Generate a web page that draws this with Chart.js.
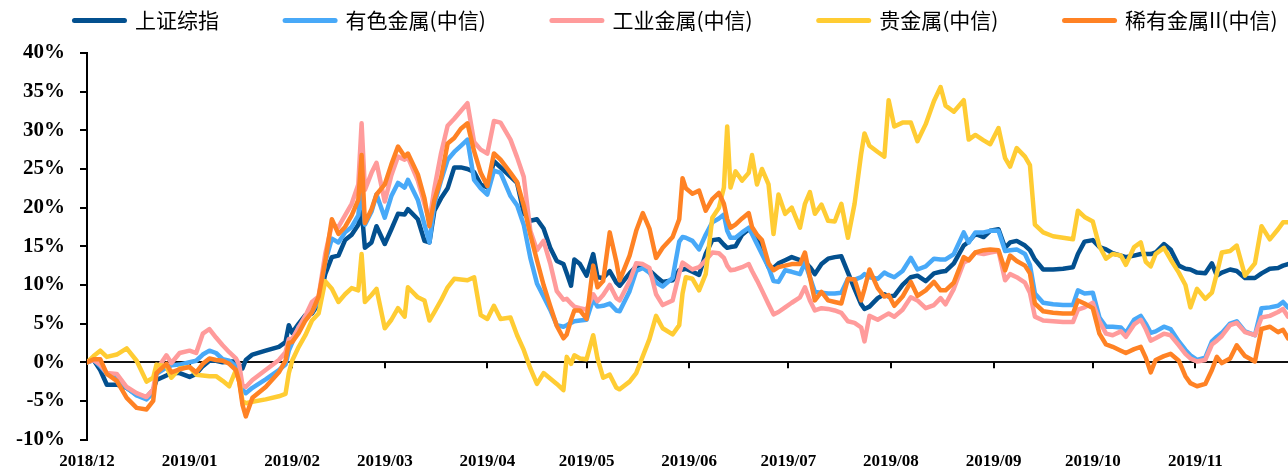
<!DOCTYPE html>
<html>
<head>
<meta charset="utf-8">
<script src="https://cdn.jsdelivr.net/npm/chart.js@4.4.0/dist/chart.umd.min.js"></script>
<style>
  html, body { margin: 0; padding: 0; background: #fff; }
  #wrap { width: 1288px; height: 473px; position: relative; }
</style>
</head>
<body>
<div id="wrap"><canvas id="chart"></canvas></div>
<script>
// 横轴：距 2018/12/01 的天数
const days = [
  0, 2, 4, 6, 9, 12, 15, 18, 20, 21, 24, 25.5, 28, 31, 33, 35, 37, 39, 41, 43, 45, 46, 47, 48, 50, 54, 58, 60, 61,
  62, 64, 66, 68, 70, 72, 74, 76, 78, 80, 82, 83, 84, 86, 87.5, 90, 92, 94, 96, 97, 100, 102, 103.5, 105, 107, 109, 111, 113, 115, 117, 119, 121,
  123, 125, 128, 130, 132, 134, 136, 138, 140, 142, 144, 145, 146.3, 147.3, 149, 151, 153, 154.3, 156, 158, 160, 161, 164, 166, 168, 170, 172, 174, 177, 179, 180, 181,
  183, 185, 187, 189, 191, 192.5, 193.5, 194.5, 196, 198, 200, 201, 202.5, 204, 206, 207.5, 209, 211, 213, 215.5, 217, 218.5, 220, 222, 224, 226, 228, 230, 232, 234, 235, 236.5, 239, 241, 242.3,
  244, 246.5, 249, 251, 253.5, 256, 258, 259.5, 262, 265, 266.5, 268.5, 271, 273, 275.5, 277.5, 279, 281, 283.5, 285, 286.5, 289, 292, 295, 298, 299.5, 301.5,
  304, 306, 308, 310, 312.5, 314, 316.5, 318.5, 320, 321.5, 323, 325.5, 327.5, 330, 332, 333.5, 335.5, 338, 340, 341.5, 343, 345.5, 347.5, 350, 353, 355, 357.5, 360, 361.5, 363
];

// 区间涨跌幅（%）
const shIndex = [
  0, 0.3, -1.0, -2.9, -2.9, -3.3, -4.2, -4.5, -3.6, -2.3, -1.7, -1.4, -1.4, -1.9, -1.5, -0.5, 0.2, 0.2, 0.0, 0.1, 0.1, -0.3, -0.8, 0.3, 1.0, 1.5, 2.0, 2.6, 4.8,
  3.8, 5.0, 6.1, 6.3, 7.6, 11.4, 13.6, 13.8, 15.8, 16.5, 17.8, 19.8, 14.8, 15.5, 17.6, 15.3, 17.2, 19.2, 19.1, 19.8, 18.5, 15.7, 15.5, 19.6, 21.2, 22.5, 25.2, 25.2, 25.0, 24.6, 23.0, 22.6,
  26.0, 25.2, 24.0, 23.2, 19.3, 18.3, 18.5, 17.3, 14.8, 13.1, 12.7, 11.5, 9.9, 13.3, 12.7, 11.2, 14.0, 11.0, 10.9, 11.8, 10.3, 9.9, 11.5, 12.4, 12.4, 11.9, 11.1, 10.4, 10.6, 11.9, 12.0, 12.1,
  11.7, 11.3, 14.0, 15.8, 15.9, 15.2, 14.8, 14.9, 15.0, 16.5, 17.2, 16.8, 16.0, 14.5, 12.3, 12.2, 12.8, 13.2, 13.6, 13.2, 13.0, 12.3, 11.4, 12.7, 13.4, 13.6, 13.7, 11.6, 9.5, 7.5, 6.9, 7.2, 8.3, 8.8, 8.5,
  8.6, 10.0, 11.0, 11.2, 10.5, 11.5, 11.7, 11.8, 12.8, 15.1, 15.6, 16.6, 16.2, 17.0, 17.2, 14.8, 15.5, 15.7, 15.1, 14.5, 13.3, 12.0, 12.0, 12.1, 12.3, 14.0, 15.6,
  15.8, 14.9, 14.6, 14.1, 13.8, 13.6, 13.8, 14.0, 14.0, 14.0, 14.2, 15.3, 14.6, 12.5, 12.1, 12.0, 11.6, 11.5, 12.8, 11.2, 11.6, 12.0, 11.8, 10.9, 10.9, 11.5, 12.1, 12.2, 12.5, 12.7
];
const nonferrous = [
  0, 0.3, -0.5, -1.5, -2.0, -3.3, -4.3, -4.8, -4.0, -1.5, -0.7, -0.4, -0.3, 0.0, 0.2, 1.0, 1.5, 1.2, 0.4, 0.2, -0.5, -1.5, -3.5, -4.0, -3.3, -2.2, -1.0, -0.3, 1.5,
  2.5, 4.6, 5.5, 6.5, 8.0, 13.0, 16.0, 15.5, 16.8, 17.5, 19.0, 22.6, 17.8, 19.5, 21.7, 18.7, 21.5, 23.2, 22.6, 23.6, 21.0, 17.8, 15.5, 20.5, 23.5, 26.2, 27.2, 28.0, 28.8, 23.6, 22.5, 21.7,
  24.8, 24.5, 21.5, 20.3, 17.8, 13.5, 10.2, 8.5, 6.8, 4.8, 4.6, 4.8, 5.1, 5.3, 5.4, 5.5, 8.2, 7.2, 7.3, 7.6, 6.7, 6.6, 9.2, 11.8, 12.2, 11.6, 10.3, 9.8, 10.9, 15.6, 16.2, 16.1,
  15.7, 14.6, 16.5, 18.1, 18.6, 19.1, 17.0, 16.1, 16.1, 16.8, 17.4, 16.6, 15.3, 14.0, 12.3, 10.5, 10.4, 11.9, 11.7, 11.4, 12.9, 11.0, 9.1, 9.0, 8.9, 8.9, 9.0, 10.8, 10.7, 11.0, 11.4, 11.0, 10.8, 11.6, 11.3,
  11.0, 11.8, 13.5, 12.0, 12.4, 13.4, 13.3, 13.3, 14.0, 16.8, 15.5, 16.8, 16.8, 17.0, 17.0, 14.4, 14.5, 14.6, 14.0, 12.6, 8.9, 7.7, 7.5, 7.4, 7.4, 9.3, 8.9,
  9.0, 5.8, 4.6, 4.6, 4.5, 3.8, 5.5, 6.0, 5.0, 3.8, 4.0, 4.6, 4.3, 2.7, 1.6, 0.9, 0.3, 0.6, 2.7, 3.3, 3.8, 5.0, 5.3, 4.0, 3.5, 7.0, 7.1, 7.3, 7.8, 7.1
];
const industrial = [
  0, 0.3, -0.3, -1.4, -1.5, -3.2, -4.0, -4.5, -3.5, -1.0, 0.9, -0.1, 1.2, 1.5, 1.2, 3.7, 4.3, 3.2, 2.2, 1.3, 0.5, -0.3, -3.0, -3.2, -2.3, -1.0, 0.3, 1.3, 3.0,
  3.0, 4.5, 6.0, 7.8, 8.5, 14.0, 17.8, 17.5, 19.0, 20.5, 23.0, 30.9, 22.3, 24.5, 25.8, 20.8, 24.2, 26.6, 26.2, 26.5, 23.5, 20.5, 18.3, 22.5, 27.0, 30.6, 31.5, 32.5, 33.5, 28.5, 27.5, 27.0,
  31.2, 31.0, 28.8, 26.5, 24.0, 17.0, 14.5, 15.7, 12.8, 9.2, 8.1, 8.2, 7.6, 7.2, 7.0, 6.8, 8.8, 7.9, 8.7, 10.0, 8.3, 8.0, 10.5, 12.8, 12.7, 12.2, 8.8, 7.4, 8.0, 11.5, 12.9, 12.6,
  12.0, 12.3, 13.2, 14.2, 14.1, 13.5, 12.5, 11.9, 12.0, 12.3, 12.7, 11.8, 10.6, 9.3, 7.5, 6.2, 6.5, 7.1, 7.7, 8.4, 9.7, 8.0, 6.7, 7.0, 6.9, 6.7, 6.4, 5.3, 5.1, 4.5, 2.7, 6.0, 5.5, 6.0, 6.3,
  5.9, 6.8, 8.4, 8.0, 7.0, 7.4, 8.3, 7.5, 9.5, 12.9, 13.2, 14.2, 14.0, 14.2, 14.4, 10.6, 11.4, 11.0, 10.3, 9.0, 5.9, 5.4, 5.3, 5.2, 5.2, 6.8, 7.1,
  7.7, 5.3, 3.7, 3.5, 4.0, 3.3, 4.9, 5.5, 4.3, 2.8, 3.1, 3.7, 3.5, 2.2, 1.1, 0.5, 0.1, 0.3, 2.3, 2.8, 3.4, 4.8, 5.1, 3.9, 3.5, 5.8, 6.0, 6.5, 6.9, 5.9
];
const precious = [
  0, 0.8, 1.5, 0.7, 1.0, 1.8, 0.2, -2.5, -2.0, -0.3, -0.5, -2.0, -0.8, -0.6, -1.6, -1.7, -1.8, -1.8, -2.4, -3.1, -1.0, -2.5, -5.0, -5.3, -5.1, -4.8, -4.4, -4.1, -1.4,
  0.2, 2.0, 3.5, 5.4, 6.3, 10.5, 9.5, 7.8, 8.8, 9.6, 9.3, 14.0, 7.8, 8.7, 9.5, 4.4, 5.5, 7.0, 5.9, 9.7, 8.4, 8.0, 5.4, 6.5, 8.0, 9.7, 10.8, 10.7, 10.6, 11.0, 6.1, 5.6,
  7.3, 5.6, 5.8, 3.5, 1.6, -0.8, -2.8, -1.4, -2.1, -2.8, -3.6, 0.7, -0.2, 0.9, 0.5, 0.4, 3.5, 0.5, -2.0, -1.6, -3.3, -3.5, -2.5, -1.4, 0.8, 3.0, 6.0, 4.4, 3.6, 4.8, 8.9, 11.0,
  10.8, 9.3, 11.4, 18.7, 20.0, 22.6, 30.5, 22.6, 24.7, 23.5, 24.5, 26.8, 23.0, 25.0, 23.0, 16.6, 21.7, 19.2, 20.0, 17.4, 20.5, 22.0, 19.2, 20.4, 18.3, 18.2, 20.5, 16.1, 20.5, 27.0, 29.6, 28.0, 27.2, 26.6, 33.9,
  30.5, 31.0, 31.0, 28.6, 30.8, 33.8, 35.6, 33.2, 32.4, 33.9, 28.8, 29.4, 28.7, 28.2, 30.3, 26.4, 25.3, 27.7, 26.6, 25.5, 17.8, 16.8, 16.3, 16.1, 15.9, 19.6, 18.8,
  18.2, 15.0, 13.4, 14.0, 13.8, 12.6, 14.9, 15.5, 13.0, 12.4, 14.0, 14.8, 13.3, 11.6, 10.0, 7.1, 9.5, 8.2, 9.0, 11.5, 14.2, 14.4, 15.1, 11.2, 12.8, 17.6, 15.9, 17.2, 18.1, 18.1
];
const rareMetal = [
  0, 0.4, 0.4, -1.5, -2.4, -4.6, -5.9, -6.1, -5.0, -1.4, -0.2, -1.3, -0.9, -0.6, -1.3, -0.2, 0.5, 0.3, 0.2, -0.2, -1.0, -2.5, -5.5, -7.0, -4.6, -3.2, -1.3, 0.2, 2.5,
  2.6, 3.8, 5.4, 6.5, 8.5, 13.0, 18.5, 16.6, 17.5, 19.0, 21.0, 26.8, 18.0, 19.8, 21.7, 23.0, 25.6, 27.9, 26.6, 27.0, 24.3, 21.2, 17.6, 21.0, 23.8, 28.3, 29.0, 30.2, 30.9, 27.3, 24.5, 22.8,
  27.0, 26.2, 24.5, 23.3, 20.3, 16.5, 13.2, 10.0, 7.3, 4.7, 3.1, 3.6, 5.5, 6.7, 6.7, 5.6, 12.5, 9.7, 10.5, 16.8, 13.0, 10.6, 13.8, 17.0, 19.3, 17.3, 13.5, 14.8, 16.2, 18.5, 23.8, 22.5,
  21.8, 22.2, 19.6, 21.1, 21.9, 20.5, 18.5, 17.4, 17.8, 18.6, 19.3, 17.5, 16.5, 15.8, 12.8, 11.9, 12.3, 12.5, 12.7, 12.7, 14.2, 11.0, 8.0, 9.1, 8.0, 7.8, 7.6, 10.8, 10.7, 8.0, 9.5, 12.0, 9.6, 8.5, 8.7,
  7.3, 8.5, 10.4, 8.6, 9.3, 10.4, 9.3, 9.3, 10.3, 13.6, 13.2, 14.2, 14.5, 14.6, 14.5, 11.9, 13.8, 13.1, 12.5, 11.5, 7.6, 6.6, 6.4, 6.3, 6.3, 8.0, 7.6,
  7.0, 3.7, 2.3, 2.0, 1.5, 1.2, 1.7, 2.0, 0.6, -1.3, 0.3, 0.8, 1.1, 0.2, -1.8, -2.7, -3.1, -2.8, -1.0, 0.7, -0.1, 0.5, 2.2, 0.8, 0.1, 4.3, 4.6, 3.9, 4.2, 3.1
];

const seriesNames = ['上证综指', '有色金属(中信)', '工业金属(中信)', '贵金属(中信)', '稀有金属II(中信)'];
const seriesColors = ['#03508F', '#48A9F8', '#FF9B9B', '#FFCC33', '#FF8224'];
const seriesValues = [shIndex, nonferrous, industrial, precious, rareMetal];

const monthDays = [0, 31, 62, 90, 121, 151, 182, 212, 243, 274, 304, 335];
const monthLabels = ['2018/12', '2019/01', '2019/02', '2019/03', '2019/04', '2019/05',
  '2019/06', '2019/07', '2019/08', '2019/09', '2019/10', '2019/11'];
const yTickValues = [-10, -5, 0, 5, 10, 15, 20, 25, 30, 35, 40];

const axisFont = { family: 'Liberation Serif', size: 21, weight: 'bold' };

// 图例：与绘图区之间留空，并整体右移一点
const legendTweak = {
  id: 'legendTweak',
  beforeInit(chart) {
    const fit = chart.legend.fit;
    chart.legend.fit = function () {
      fit.call(this);
      this.height += 12;
    };
  },
  afterLayout(chart) {
    chart.legend.left += 24;
    chart.legend.right += 24;
  }
};

// 零轴上的月份刻度
const monthTicks = {
  id: 'monthTicks',
  beforeDatasetsDraw(chart) {
    const { ctx, scales: { x, y } } = chart;
    const y0 = y.getPixelForValue(0);
    ctx.save();
    ctx.strokeStyle = '#000';
    ctx.lineWidth = 2;
    monthDays.slice(1).forEach((d) => {
      const px = Math.round(x.getPixelForValue(d));
      ctx.beginPath();
      ctx.moveTo(px, y0);
      ctx.lineTo(px, y0 + 6);
      ctx.stroke();
    });
    ctx.restore();
  }
};

const datasets = seriesValues.map((vals, i) => ({
  label: seriesNames[i],
  data: vals.map((v, k) => ({ x: days[k], y: v })),
  borderColor: seriesColors[i],
  backgroundColor: seriesColors[i],
  borderWidth: 4.5,
  pointRadius: 0,
  tension: 0,
  borderJoinStyle: 'round',
  borderCapStyle: 'round',
  order: seriesValues.length - 1 - i
}));

new Chart(document.getElementById('chart'), {
  type: 'line',
  data: { datasets },
  plugins: [legendTweak, monthTicks],
  options: {
    responsive: true,
    maintainAspectRatio: false,
    animation: false,
    layout: { padding: { left: 16, right: 0, top: 0, bottom: 1 } },
    plugins: {
      tooltip: { enabled: false },
      legend: {
        position: 'top',
        labels: {
          usePointStyle: true,
          pointStyle: 'line',
          pointStyleWidth: 50,
          boxHeight: 5,
          padding: 10,
          color: '#000',
          font: { family: 'Noto Sans CJK SC', size: 21 },
          sort: (a, b) => a.datasetIndex - b.datasetIndex,
          generateLabels(chart) {
            const items = Chart.defaults.plugins.legend.labels.generateLabels(chart);
            items.forEach((it) => {
              it.lineWidth = 5;
              it.lineCap = 'round';
              it.pointStyle = 'line';
              if (it.datasetIndex < seriesNames.length - 1) it.text += '\u3000\u3000   ';
            });
            return items;
          }
        }
      }
    },
    scales: {
      x: {
        type: 'linear',
        min: 0,
        max: 363,
        grid: { display: false, drawTicks: false },
        border: { display: false },
        afterBuildTicks(axis) {
          axis.ticks = monthDays.map((v) => ({ value: v }));
        },
        afterFit(axis) {
          axis.height -= 12;
        },
        ticks: {
          autoSkip: false,
          maxRotation: 0,
          padding: 12,
          color: '#000',
          font: { family: 'Liberation Serif', size: 17, weight: 'bold' },
          callback: (v, i) => monthLabels[i]
        }
      },
      y: {
        min: -10,
        max: 40,
        afterBuildTicks(axis) {
          axis.ticks = yTickValues.map((v) => ({ value: v }));
        },
        afterFit(axis) {
          axis.width -= 15;
        },
        border: { display: true, color: '#000', width: 2 },
        grid: {
          color: (c) => (c.tick && c.tick.value === 0 ? '#111' : 'rgba(0,0,0,0)'),
          lineWidth: 2,
          tickColor: '#000',
          tickLength: 7,
          tickWidth: 2
        },
        ticks: {
          padding: 15,
          color: '#000',
          font: axisFont,
          callback: (v) => v + '%'
        }
      }
    }
  }
});
</script>
</body>
</html>
